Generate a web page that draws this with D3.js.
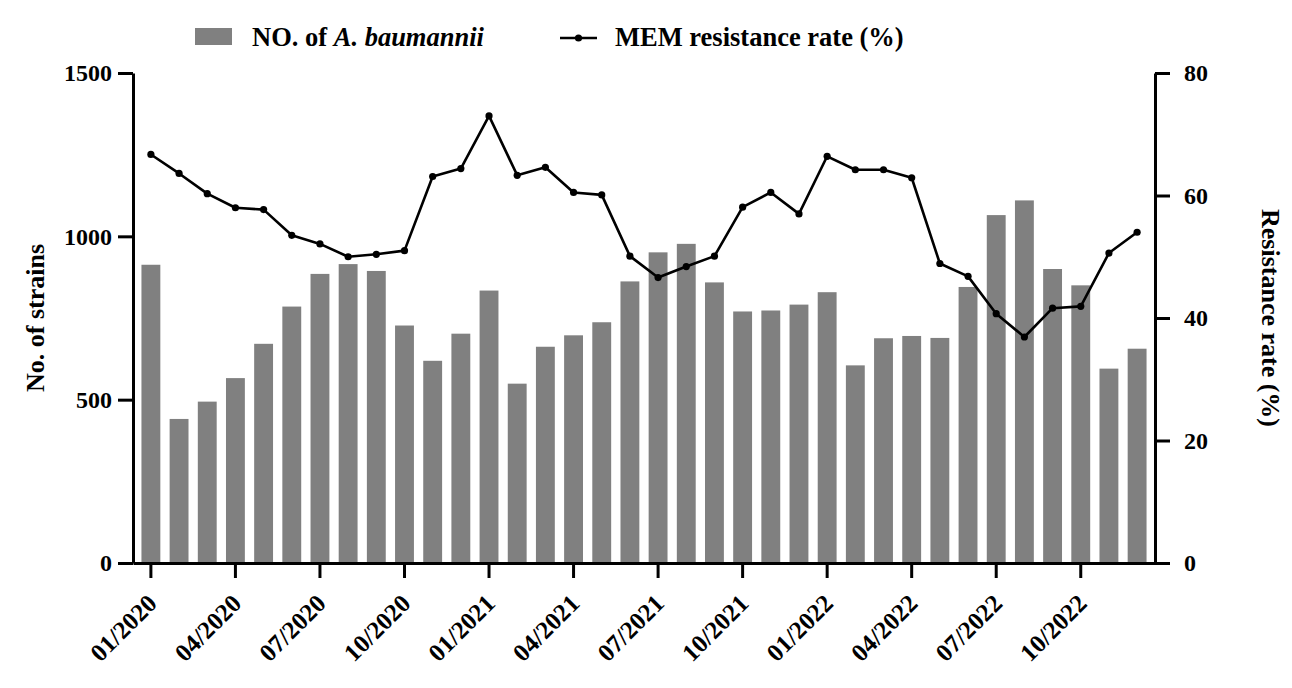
<!DOCTYPE html>
<html>
<head>
  <meta charset="utf-8">
  <script src="https://d3js.org/d3.v7.min.js"></script>
  <style>
    body { margin: 0; background: #fff; }
    text { font-family: "Liberation Serif", "Times New Roman", serif; font-weight: bold; fill: #000; }
    .axis path, .axis line { stroke: #000; stroke-width: 3; }
    .axis text { font-size: 24px; }
  </style>
</head>
<body>
  <script>
    // months Jan 2020 - Dec 2022
    var months = [];
    [2020, 2021, 2022].forEach(function(yr) {
      for (var m = 1; m <= 12; m++) months.push((m < 10 ? "0" + m : "" + m) + "/" + yr);
    });

    // number of A. baumannii strains per month
    var strains = [913, 441, 494, 566, 671, 785, 885, 915, 894, 727, 619, 702,
                   834, 549, 662, 697, 737, 862, 951, 977, 859, 770, 773, 791,
                   829, 605, 688, 695, 689, 845, 1065, 1110, 900, 850, 595, 656];

    // MEM resistance rate (%)
    var memRate = [66.7, 63.6, 60.3, 58.0, 57.7, 53.5, 52.1, 50.0, 50.4, 51.0, 63.1, 64.4,
                   73.0, 63.3, 64.6, 60.5, 60.1, 50.1, 46.6, 48.4, 50.1, 58.1, 60.5, 57.0,
                   66.4, 64.2, 64.2, 62.9, 48.9, 46.8, 40.7, 36.9, 41.6, 41.9, 50.6, 54.0];

    var xTickLabels = months.filter(function(d, i) { return i % 3 === 0 && i < 34; });
    var leftTicks = [0, 500, 1000, 1500];
    var rightTicks = [0, 20, 40, 60, 80];

    var data = months.map(function(m, i) {
      return {month: m, n: strains[i], rate: memRate[i]};
    });

    var svg = d3.select("body").append("svg")
      .attr("width", 1292)
      .attr("height", 688);

    // scales
    var x = d3.scaleBand()
      .domain(months)
      .range([133, 1155])
      .paddingInner(0.33)
      .paddingOuter(0.3);

    var yL = d3.scaleLinear().domain([0, 1500]).range([563, 73]);
    var yR = d3.scaleLinear().domain([0, 80]).range([563, 73]);

    // bars
    svg.selectAll(".bar")
      .data(data)
      .enter().append("rect")
      .attr("class", "bar")
      .attr("x", function(d) { return x(d.month); })
      .attr("width", x.bandwidth())
      .attr("y", function(d) { return yL(d.n); })
      .attr("height", function(d) { return yL(0) - yL(d.n); })
      .style("fill", "#808080");

    // resistance line
    var cx = function(d) { return x(d.month) + x.bandwidth() / 2; };
    var line = d3.line()
      .x(cx)
      .y(function(d) { return yR(d.rate); });

    svg.append("path")
      .datum(data)
      .attr("d", line)
      .attr("fill", "none")
      .attr("stroke", "#000")
      .attr("stroke-width", 2.6)
      .attr("stroke-linejoin", "round");

    svg.selectAll(".dot")
      .data(data)
      .enter().append("circle")
      .attr("class", "dot")
      .attr("cx", cx)
      .attr("cy", function(d) { return yR(d.rate); })
      .attr("r", 3.6)
      .attr("fill", "#000");

    // axes
    svg.append("g")
      .attr("class", "axis")
      .attr("transform", "translate(133,0)")
      .call(d3.axisLeft(yL).tickValues(leftTicks).tickFormat(d3.format("d"))
        .tickSize(15).tickSizeOuter(0).tickPadding(6));

    svg.append("g")
      .attr("class", "axis")
      .attr("transform", "translate(1155,0)")
      .call(d3.axisRight(yR).tickValues(rightTicks).tickFormat(d3.format("d"))
        .tickSize(15).tickSizeOuter(0).tickPadding(14));

    var xAxis = svg.append("g")
      .attr("class", "axis")
      .attr("transform", "translate(0,563)")
      .call(d3.axisBottom(x).tickValues(xTickLabels).tickSize(15).tickSizeOuter(0));

    // rotated month labels, ending just below-right of each tick
    xAxis.selectAll("text")
      .attr("x", 0)
      .attr("y", 0)
      .attr("dy", 0)
      .attr("text-anchor", "end")
      .attr("transform", "translate(7.5,42) rotate(-45)")
      .style("font-size", "25px");

    // axis titles
    svg.append("text")
      .attr("transform", "translate(44,318) rotate(-90)")
      .attr("text-anchor", "middle")
      .style("font-size", "26px")
      .text("No. of strains");

    svg.append("text")
      .attr("transform", "translate(1262,318) rotate(90)")
      .attr("text-anchor", "middle")
      .style("font-size", "26px")
      .text("Resistance rate (%)");

    // legend
    var legend = svg.append("g");
    legend.append("rect")
      .attr("x", 195).attr("y", 28)
      .attr("width", 37).attr("height", 17)
      .style("fill", "#808080");
    var t1 = legend.append("text")
      .attr("x", 252).attr("y", 46)
      .style("font-size", "26.5px");
    t1.append("tspan").text("NO. of ");
    t1.append("tspan").style("font-style", "italic").text("A. baumannii");

    legend.append("line")
      .attr("x1", 560).attr("x2", 597)
      .attr("y1", 38).attr("y2", 38)
      .attr("stroke", "#000").attr("stroke-width", 2.6);
    legend.append("circle")
      .attr("cx", 578.5).attr("cy", 38).attr("r", 3.6)
      .attr("fill", "#000");
    legend.append("text")
      .attr("x", 615).attr("y", 46)
      .style("font-size", "26.5px")
      .text("MEM resistance rate (%)");
  </script>
</body>
</html>
